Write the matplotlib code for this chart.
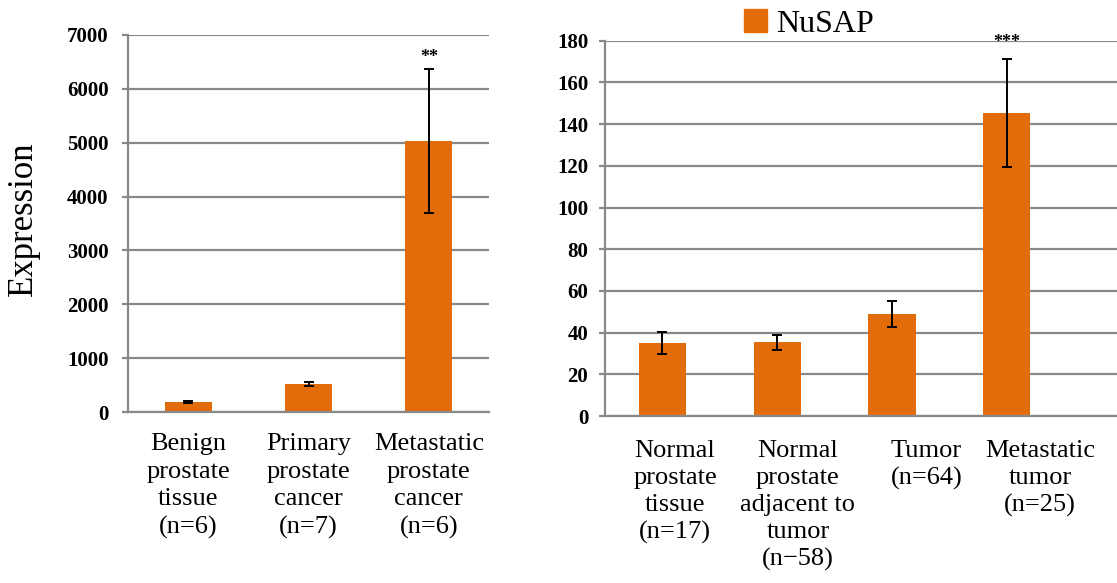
import numpy as np
import matplotlib
matplotlib.use('Agg')
import matplotlib.pyplot as plt
from matplotlib.patches import Patch

plt.rcParams['font.family'] = ['Liberation Serif', 'DejaVu Serif']

# left panel
cat_left = ['Benign\nprostate\ntissue\n(n=6)',
            'Primary\nprostate\ncancer\n(n=7)',
            'Metastatic\nprostate\ncancer\n(n=6)']
val_left = [185, 520, 5030]
err_left = [20, 40, 1330]
sig_left = ['', '', '**']

# right panel
cat_right = ['Normal\nprostate\ntissue\n(n=17)',
             'Normal\nprostate\nadjacent to\ntumor\n(n\u221258)',
             'Tumor\n(n=64)',
             'Metastatic\ntumor\n(n=25)']
val_right = [35, 35.3, 48.8, 145.3]
err_right = [5.2, 3.7, 6.3, 25.7]
sig_right = ['', '', '', '***']

orange = '#E36C0A'
grey = '#898989'

W, H = 1117, 583
fig = plt.figure(figsize=(W / 100, H / 100), dpi=100)

def px_axes(x0, x1, y0, y1):
    return fig.add_axes([x0 / W, 1 - y1 / H, (x1 - x0) / W, (y1 - y0) / H])

ax1 = px_axes(128, 489, 35, 412)
ax2 = px_axes(605, 1117, 40.7, 416)

def style(ax, ticks, pad):
    for s in ['top', 'right']:
        ax.spines[s].set_visible(False)
    for s in ['left', 'bottom']:
        ax.spines[s].set_color(grey)
        ax.spines[s].set_linewidth(1.6)
    ax.set_yticks(ticks)
    ax.yaxis.grid(True, color=grey, linewidth=1.6)
    ax.set_axisbelow(True)
    ax.tick_params(axis='y', length=4, width=1.6, color=grey, pad=pad, labelsize=15)
    ax.tick_params(axis='x', length=0)
    for t in ax.get_yticklabels():
        t.set_fontweight('bold')

# left chart
x1 = np.arange(len(val_left))
ax1.bar(x1, val_left, width=0.39, color=orange, zorder=2)
ax1.errorbar(x1, val_left, yerr=err_left, fmt='none', ecolor='black',
             elinewidth=1.4, capsize=3.5, capthick=1.4, zorder=3)
ax1.set_xlim(-0.5, 2.5)
ax1.set_ylim(0, 7000)
style(ax1, np.arange(0, 7001, 1000), 10)
ax1.set_xticks(x1)
ax1.set_xticklabels(cat_left, fontsize=19, linespacing=1.34, va='top')
ax1.tick_params(axis='x', pad=15)
for i, s in enumerate(sig_left):
    if s:
        ax1.text(x1[i], val_left[i] + err_left[i] + 230, s, ha='center', va='center',
                 fontsize=13, fontweight='bold')

# right chart
x2 = np.arange(len(val_right))
ax2.bar(x2, val_right, width=0.41, color=orange, zorder=2)
ax2.errorbar(x2, val_right, yerr=err_right, fmt='none', ecolor='black',
             elinewidth=1.4, capsize=3.5, capthick=1.4, zorder=3)
ax2.set_xlim(-0.5, 3.96)
ax2.set_ylim(0, 180)
style(ax2, np.arange(0, 181, 20), 8)
# labels sit slightly to the right of the bars in the original
label_shift = [0.11, 0.18, 0.30, 0.29]
ax2.set_xticks(x2 + np.array(label_shift))
ax2.set_xticklabels(cat_right, fontsize=19, linespacing=1.3, va='top')
ax2.tick_params(axis='x', pad=17)
for i, s in enumerate(sig_right):
    if s:
        ax2.text(x2[i], val_right[i] + err_right[i] + 8, s, ha='center', va='center',
                 fontsize=13, fontweight='bold', clip_on=False)

ax2.legend(handles=[Patch(color=orange, label='NuSAP')], loc='center',
           bbox_to_anchor=(809 / W, 1 - 24 / H), bbox_transform=fig.transFigure,
           frameon=False, fontsize=23, handlelength=0.7, handleheight=0.7,
           handletextpad=0.3, borderpad=0)

fig.text(23 / W, 1 - 219 / H, 'Expression', rotation=90, ha='center', va='center',
         fontsize=25)

fig.savefig('out.png', dpi=100)
